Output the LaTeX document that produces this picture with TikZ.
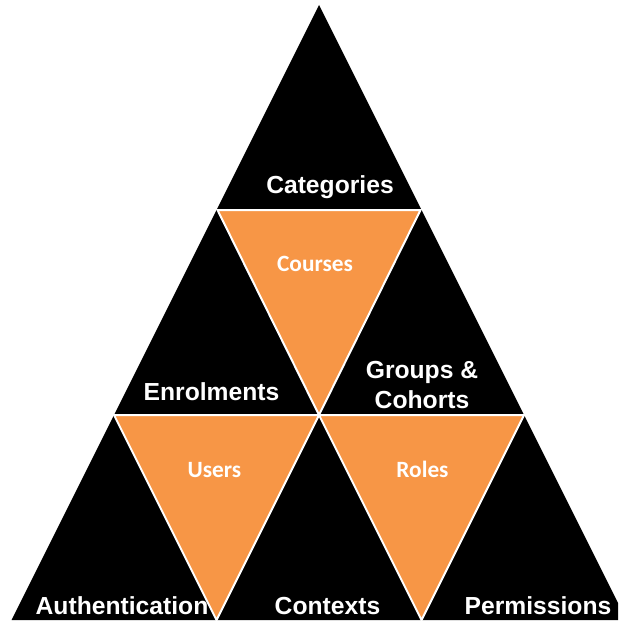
\documentclass[tikz,border=0pt]{standalone}
\usepackage{fontspec}
\setmainfont{Liberation Sans}
\newfontfamily\carlito{Carlito}
\definecolor{ppOrange}{RGB}{247,150,70}
\tikzset{
  blacklbl/.style={anchor=base, inner sep=0.75pt, text=white, font=\fontsize{18.5}{22.5}\selectfont\bfseries},
  orangelbl/.style={anchor=base, inner sep=0.75pt, text=white, font=\carlito\fontsize{17.5}{21}\selectfont\bfseries},
  orangetri/.style={fill=ppOrange, draw=white, line width=1.5pt, line join=miter}
}

\begin{document}
\begin{tikzpicture}[x=0.75pt,y=0.75pt,yscale=-1,xscale=1]
\useasboundingbox (0,0) rectangle (618,624);
\clip (0,0) rectangle (618,624);

%Shape: Triangle [whole pyramid]
\fill [black] (319,5) -- (626.5,620) -- (11.5,620) -- cycle ;
%Shape: Triangle [courses]
\draw [orangetri] (217.5,210) -- (420.5,210) -- (319,415) -- cycle ;
%Shape: Triangle [users]
\draw [orangetri] (114,415) -- (319,415) -- (216.5,620) -- cycle ;
%Shape: Triangle [roles]
\draw [orangetri] (319,415) -- (524,415) -- (421.5,620) -- cycle ;

% Text Node
\node [blacklbl] (categories) at (330,193) {Categories};
% Text Node
\node [orangelbl] (courses) at (315,271) {Courses};
% Text Node
\node [blacklbl] (enrolments) at (211.5,400) {Enrolments};
% Text Node
\node [blacklbl, align=center] (groups) at (422,408) {Groups \&\\Cohorts};
% Text Node
\node [orangelbl] (users) at (214.5,477) {Users};
% Text Node
\node [orangelbl] (roles) at (422.5,477) {Roles};
% Text Node
\node [blacklbl] (authentication) at (122,614) {Authentication};
% Text Node
\node [blacklbl] (contexts) at (327.5,614) {Contexts};
% Text Node
\node [blacklbl] (permissions) at (538,614) {Permissions};

\end{tikzpicture}
\end{document}
